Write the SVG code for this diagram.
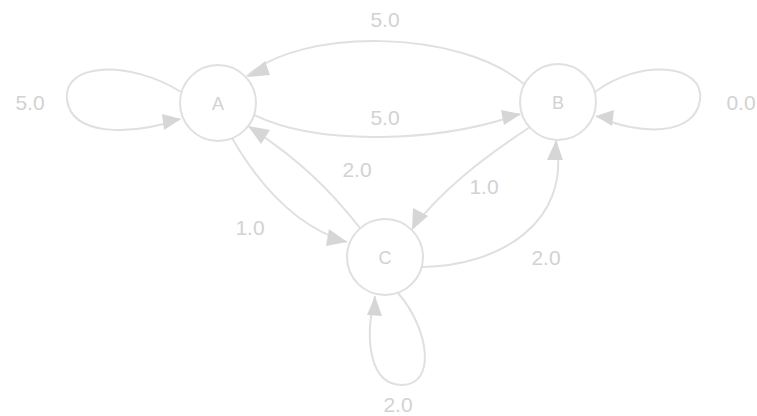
<svg xmlns="http://www.w3.org/2000/svg" width="757" height="416" viewBox="0 0 757 416">
<style>
.n{fill:none;stroke:#e0e0e0;stroke-width:2}
.e{fill:none;stroke:#e0e0e0;stroke-width:2}
.h{fill:#d6d6d6}
.t{font-family:"Liberation Sans",Arial,sans-serif;font-size:21px;fill:#d2d2d2;text-anchor:middle}
.l{font-family:"Liberation Sans",Arial,sans-serif;font-size:18px;fill:#d2d2d2;text-anchor:middle}
</style>
<rect width="757" height="416" fill="#ffffff"/>
<g id="edges">
<path class="e" d="M181,92 C130,60 62,62 67,100 C72,136 130,136 180,119"/>
<path class="h" d="M162,114 L181,119 L164,130 z"/>
<path class="e" d="M525,85 C460,28 300,28 247,76"/>
<path class="h" d="M265,61 L247,77 L270,75 z"/>
<path class="e" d="M254,115 C320,147 440,142 520,114"/>
<path class="h" d="M501,110 L521,114 L504,125 z"/>
<path class="e" d="M360,228 C330,190 300,160 248,126"/>
<path class="h" d="M270,130 L248,126 L261,144 z"/>
<path class="e" d="M232,138 C262,190 300,228 347,242"/>
<path class="h" d="M329,229 L347,242 L326,246 z"/>
<path class="e" d="M530,127 C480,160 440,192 412,229"/>
<path class="h" d="M413,208 L412,230 L428,216 z"/>
<path class="e" d="M422,267 C500,266 572,222 556,140"/>
<path class="h" d="M547,160 L556,140 L563,160 z"/>
<path class="e" d="M595,92 C640,58 705,64 700,100 C695,136 640,136 596,116"/>
<path class="h" d="M614,110 L596,116 L612,126 z"/>
<path class="e" d="M398,293 C430,330 436,385 402,385 C370,385 364,340 375,296"/>
<path class="h" d="M367,315 L375,296 L382,316 z"/>
</g>
<g id="labels">
<text class="t" x="30" y="110">5.0</text>
<text class="t" x="385" y="27">5.0</text>
<text class="t" x="385" y="125">5.0</text>
<text class="t" x="357" y="177">2.0</text>
<text class="t" x="484" y="194">1.0</text>
<text class="t" x="250" y="235">1.0</text>
<text class="t" x="546" y="265">2.0</text>
<text class="t" x="741" y="110">0.0</text>
<text class="t" x="398" y="412">2.0</text>
</g>
<g id="node-A"><circle class="n" cx="218" cy="103" r="38"/><text class="l" x="218" y="110">A</text></g>
<g id="node-B"><circle class="n" cx="558" cy="102" r="38"/><text class="l" x="558" y="109">B</text></g>
<g id="node-C"><circle class="n" cx="385" cy="257" r="38"/><text class="l" x="385" y="264">C</text></g>
</svg>
